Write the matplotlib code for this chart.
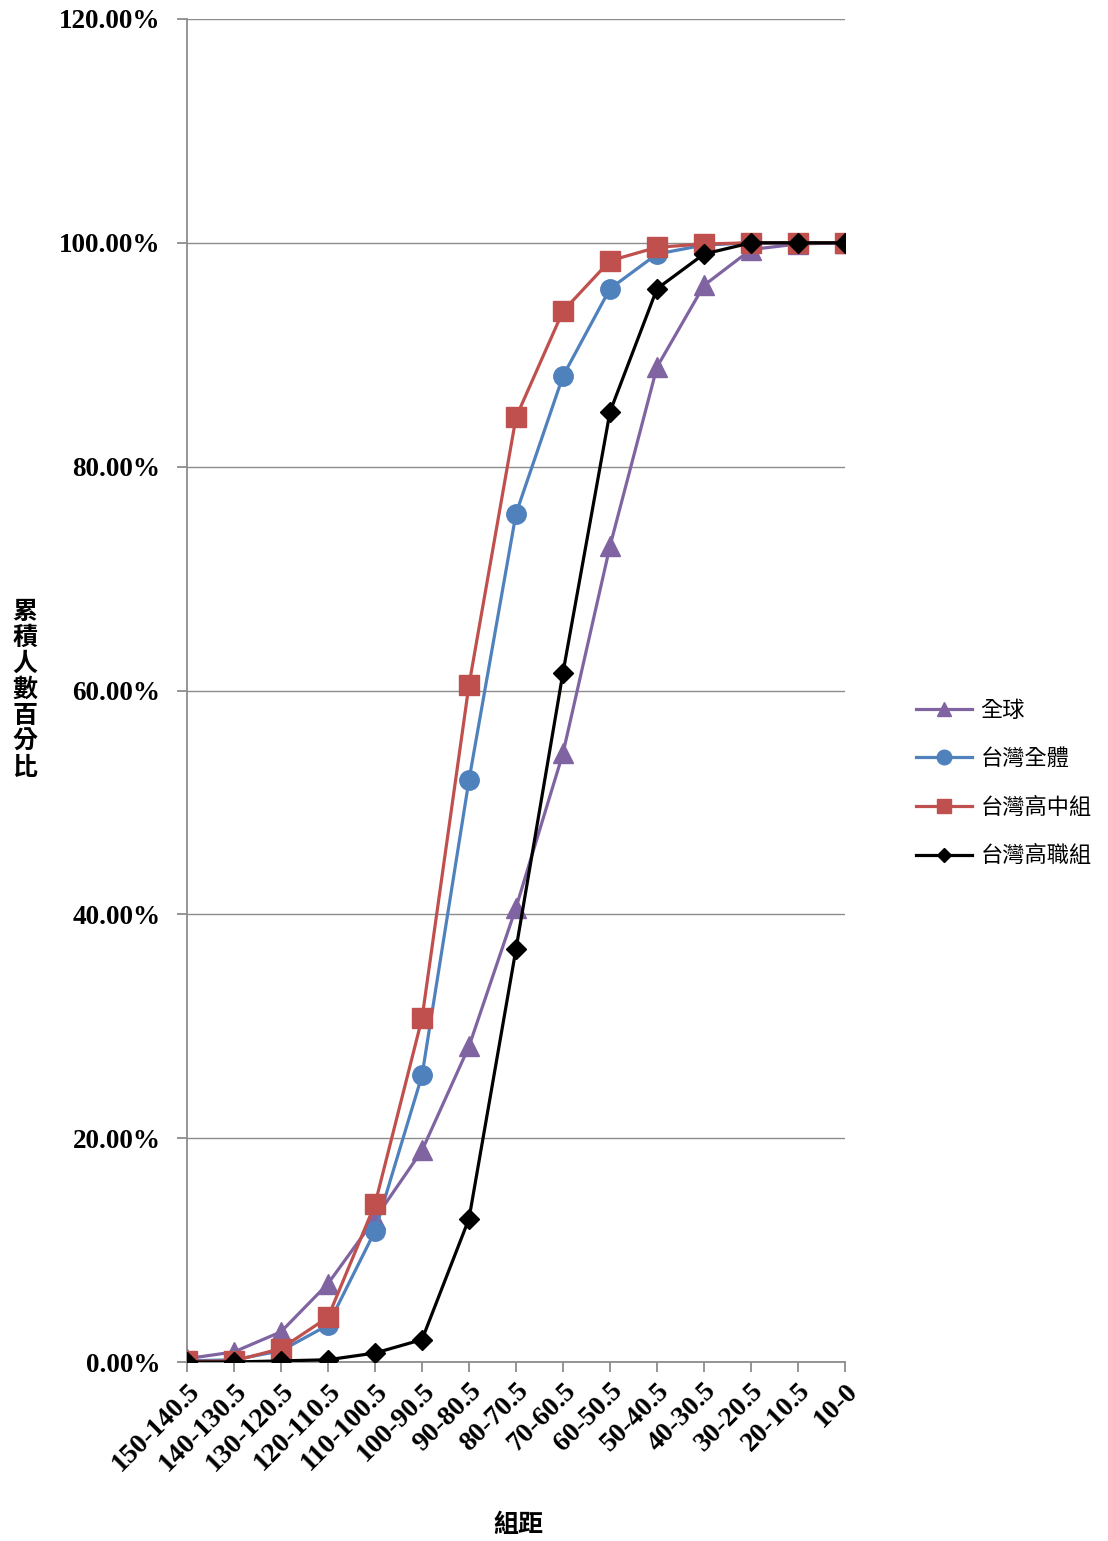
"""Cumulative percentage curves by score band (global vs Taiwan groups)."""
import matplotlib

matplotlib.use('Agg')
import matplotlib.pyplot as plt
from matplotlib.ticker import PercentFormatter

CATEGORIES = ['150-140.5', '140-130.5', '130-120.5', '120-110.5', '110-100.5',
              '100-90.5', '90-80.5', '80-70.5', '70-60.5', '60-50.5',
              '50-40.5', '40-30.5', '30-20.5', '20-10.5', '10-0']

GLOBAL = [0.3, 0.9, 2.7, 7.0, 12.8, 18.9, 28.2, 40.6, 54.4, 72.9,
          88.9, 96.2, 99.4, 99.9, 100.0]
TW_ALL = [0.1, 0.2, 1.0, 3.3, 11.7, 25.6, 52.0, 75.8, 88.1, 95.9,
          99.0, 99.8, 100.0, 100.0, 100.0]
TW_SENIOR = [0.05, 0.1, 1.2, 4.0, 14.1, 30.7, 60.5, 84.4, 93.9, 98.4,
             99.6, 99.9, 100.0, 100.0, 100.0]
TW_VOC = [0.0, 0.0, 0.1, 0.2, 0.8, 2.0, 12.8, 36.9, 61.6, 84.9,
          95.9, 99.0, 100.0, 100.0, 100.0]

SERIES = [
    ('全球', GLOBAL, '#8064A2', '^', 14),
    ('台灣全體', TW_ALL, '#4F81BD', 'o', 14),
    ('台灣高中組', TW_SENIOR, '#C0504D', 's', 14),
    ('台灣高職組', TW_VOC, 'black', 'D', 10),
]

CJK = ['Noto Sans CJK TC', 'DejaVu Sans']
NUM = ['Liberation Serif', 'DejaVu Serif']

W, H = 1108, 1541
fig = plt.figure(figsize=(W / 100, H / 100), dpi=100)
ax = fig.add_axes([187 / W, 1 - 1362 / H, (845 - 187) / W, (1362 - 19) / H])

x = list(range(len(CATEGORIES)))
for name, vals, color, marker, ms in SERIES:
    ax.plot(x, vals, color=color, linewidth=2.3, marker=marker, markersize=ms,
            label=name, zorder=3)

ax.set_xlim(0, len(CATEGORIES) - 1)
ax.set_ylim(0, 120)
ax.set_yticks([0, 20, 40, 60, 80, 100, 120])
ax.yaxis.set_major_formatter(PercentFormatter(decimals=2))
ax.grid(axis='y', color='#8c8c8c', linewidth=1.0)
ax.set_axisbelow(True)

for side in ('top', 'right'):
    ax.spines[side].set_visible(False)
for side in ('left', 'bottom'):
    ax.spines[side].set_color('#8c8c8c')
    ax.spines[side].set_linewidth(1.3)
ax.tick_params(colors='#8c8c8c', length=7, width=1.3, direction='out')

ax.set_xticks(x)
ax.set_xticklabels(CATEGORIES, rotation=45, ha='right', rotation_mode='anchor',
                   family=NUM, fontweight='bold', fontsize=20, color='black')
for lab in ax.get_yticklabels():
    lab.set_family(NUM)
    lab.set_fontweight('bold')
    lab.set_fontsize(19.5)
    lab.set_color('black')
ax.tick_params(axis='x', pad=5)
ax.tick_params(axis='y', pad=12)

fig.text(25 / W, 1 - 690 / H, '\n'.join('累積人數百分比'), family=CJK,
         fontweight='bold', fontsize=18, ha='center', va='center',
         linespacing=1.1)
fig.text(518 / W, 1 - 1525 / H, '組距', family=CJK, fontweight='bold',
         fontsize=18, ha='center', va='center')

leg = ax.legend(loc='center left', bbox_to_anchor=(905 / W, 1 - 783 / H),
                bbox_transform=fig.transFigure, frameon=False, borderpad=0,
                prop={'family': CJK, 'size': 16}, markerscale=0.75,
                handlelength=2.5, labelspacing=1.15, handletextpad=0.4)

fig.savefig('out.png', dpi=100)
